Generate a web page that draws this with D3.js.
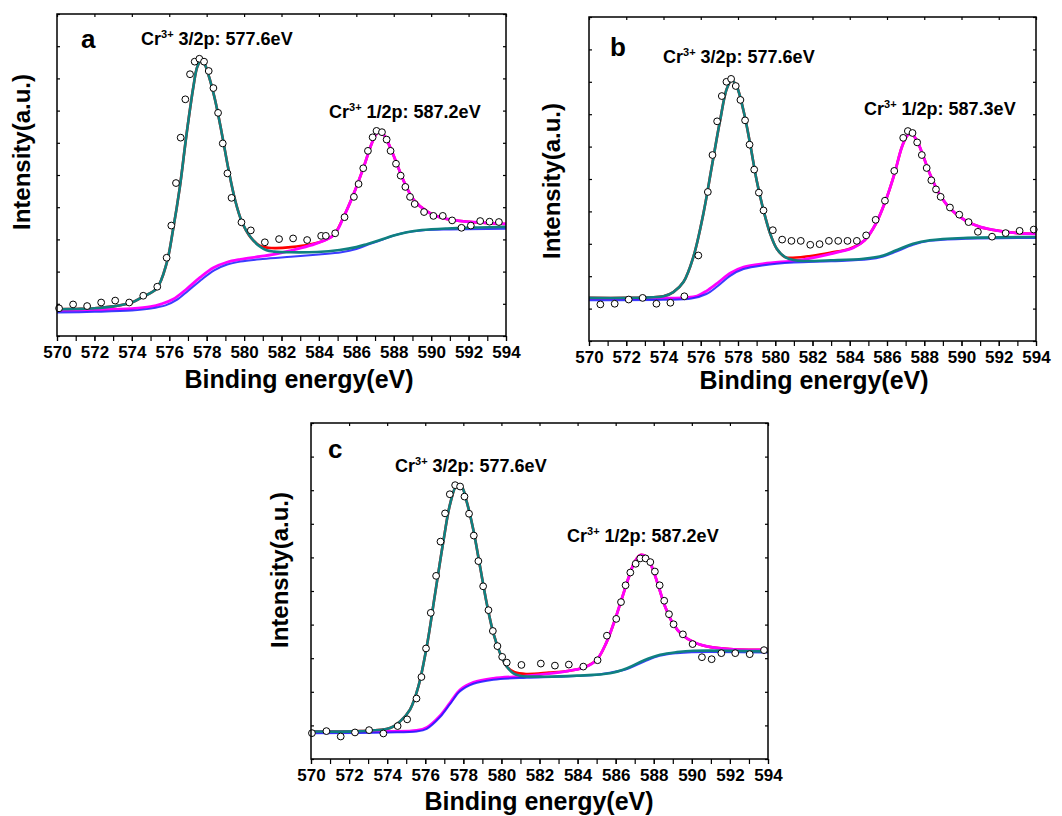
<!DOCTYPE html>
<html>
<head>
<meta charset="utf-8">
<script src="https://cdn.jsdelivr.net/npm/d3@7"></script>
<style>
  body { margin: 0; background: #fff; }
  text { font-family: "Liberation Sans", Arial, sans-serif; font-weight: bold; fill: #000; }
</style>
</head>
<body>
<svg id="fig" width="1062" height="816"></svg>
<script>
// x ticks (eV) and panel texts
var xMajor = [570, 572, 574, 576, 578, 580, 582, 584, 586, 588, 590, 592, 594];
var xMinor = [570, 571, 572, 573, 574, 575, 576, 577, 578, 579, 580, 581, 582, 583, 584, 585, 586, 587, 588, 589, 590, 591, 592, 593, 594];
var panelLetters = ["a", "b", "c"];
var peak1Labels = ["3/2p: 577.6eV", "3/2p: 577.6eV", "3/2p: 577.6eV"];
var peak2Labels = ["1/2p: 587.2eV", "1/2p: 587.3eV", "1/2p: 587.2eV"];

// ---- panel a (intensity in arbitrary units, 0..100 of the frame)
var ptsA = [[570.11,8.6],[570.86,9.8],[571.61,9.3],[572.36,10.4],[573.11,11.0],[573.86,10.4],[574.61,12.5],[575.36,15.3],[575.86,24.3],[576.11,34.3],[576.36,47.5],[576.61,61.6],[576.86,73.5],[577.11,81.3],[577.36,85.2],[577.61,86.1],[577.86,85.2],[578.11,82.3],[578.36,77.0],[578.61,69.3],[578.86,59.8],[579.11,50.5],[579.33,42.9],[579.86,35.3],[580.36,32.8],[581.11,29.1],[581.87,30.1],[582.62,30.3],[583.37,29.8],[584.12,31.1],[584.37,31.1],[584.87,31.9],[585.37,36.9],[585.87,43.2],[586.12,47.2],[586.37,52.1],[586.62,57.5],[586.87,61.7],[587.08,63.7],[587.37,63.3],[587.62,61.0],[587.83,57.5],[588.12,53.5],[588.37,49.8],[588.62,46.3],[588.87,43.2],[589.12,41.0],[589.62,38.5],[590.12,37.3],[590.62,37.3],[591.12,35.9],[591.62,33.6],[592.12,34.3],[592.62,35.7],[593.12,35.5],[593.62,35.4]];
var peak1A = [[570,8.3],[571,8.4],[572,8.6],[573,9.2],[574,10.4],[574.6,12.2],[575.33,14.8],[575.86,22.6],[576.2,32.9],[576.57,46.4],[576.93,62.9],[577.29,77.4],[577.5,83.6],[577.7,85.4],[577.9,84.3],[578.1,81.0],[578.45,73.3],[578.81,62.9],[579.17,51.6],[579.52,42.2],[579.88,35.5],[580.33,30.8]];
var tail1A = [[580.86,27.7],[581.2,26.6],[581.6,26.2],[582.5,26.0],[583.9,26.1],[585.1,26.7],[586,27.6],[586.6,28.6],[587.27,29.8],[588,31.2],[588.7,32.2],[589.5,32.9],[590.85,33.4],[592.5,33.7],[594,33.9]];
var valleyA = [[580.86,28.0],[581.3,27.4],[581.7,27.3],[582.5,27.6],[583.5,28.4],[584.3,29.7]];
var peak2A = [[584.8,31.4],[585.33,37.1],[585.87,44.3],[586.4,52.6],[586.76,58.8],[587.03,62.4],[587.22,63.5],[587.48,62.4],[587.83,58.3],[588.19,53.1],[588.55,47.9],[589.08,42.2],[589.8,38.6],[590.7,36.5],[591.94,35.5],[594,34.8]];
var base2A = [[570,7.9],[572,8.1],[574,8.5],[575,9.1],[575.6,10.0],[576.2,11.4],[576.93,14.6],[577.65,18.2],[578.36,21.2],[579.08,22.9],[579.8,23.8],[580.86,24.7],[581.8,25.6],[582.8,27.0],[583.8,28.6]];
var bgA = [[570,7.3],[572,7.5],[574,7.9],[575,8.5],[575.8,9.5],[576.4,11.2],[577,14.0],[577.7,17.4],[578.4,20.4],[579.1,22.2],[579.8,23.1],[581,23.9],[582.5,24.6],[584,25.3],[585.2,26.0],[586,27.0],[586.6,28.3],[587.3,29.7],[588,31.2],[588.7,32.2],[589.5,32.8],[591,33.1],[594,33.3]];

// ---- panel b
var ptsB = [[570.61,11.3],[571.38,11.5],[572.13,12.8],[572.88,13.3],[573.62,11.5],[574.37,11.8],[575.12,13.8],[575.87,26.4],[576.38,46.0],[576.63,57.4],[576.88,67.8],[577.13,75.6],[577.38,80.0],[577.63,80.9],[577.88,78.7],[578.13,74.4],[578.38,68.1],[578.62,60.6],[578.87,52.9],[579.12,45.8],[579.37,40.3],[579.87,34.2],[580.37,31.3],[580.87,30.9],[581.37,30.9],[581.88,29.7],[582.38,29.9],[582.88,30.9],[583.38,30.9],[583.88,30.9],[584.38,30.9],[584.88,32.6],[585.39,37.4],[585.89,43.3],[586.39,52.5],[586.87,62.7],[587.12,64.8],[587.37,64.2],[587.62,61.3],[587.87,57.4],[588.13,53.4],[588.38,49.6],[588.63,46.8],[588.88,44.5],[589.38,41.2],[589.88,39.0],[590.38,36.7],[590.88,33.7],[591.64,32.2],[592.37,33.3],[593.12,34.0],[593.88,34.4]];
var peak1B = [[570,13.3],[572,13.3],[574,13.8],[574.53,15.1],[575.07,18.2],[575.6,25.9],[576.14,39.3],[576.59,53.7],[577.04,68.1],[577.4,77.9],[577.67,80.5],[577.93,78.6],[578.29,71.2],[578.65,60.9],[579.0,49.6],[579.37,40.3],[579.73,33.1],[580.08,28.5],[580.53,25.9]];
var tail1B = [[580.98,25.0],[581.5,24.7],[583,24.9],[584.74,25.4],[585.8,26.4],[586.5,28.0],[587.4,30.0],[588.3,31.1],[590.1,31.8],[594,32.1]];
var valleyB = [[580.95,25.7],[582,26.3],[583,27.3],[584,28.5]];
var peak2B = [[584.8,31.1],[585.4,36.2],[585.9,42.9],[586.4,51.6],[586.8,59.9],[587.1,63.5],[587.3,64.0],[587.6,61.9],[587.9,57.8],[588.3,51.6],[588.8,45.5],[589.4,40.8],[590.2,37.2],[591,35.2],[592,34.0],[593,33.3],[594,33.1]];
var base2B = [[570,13.1],[574,13.2],[575.2,13.4],[575.8,13.9],[576.3,15.4],[576.9,17.9],[577.6,21.0],[578.3,22.8],[579.4,23.9],[581.2,24.9],[582.2,25.9],[583.2,27.2],[584.2,28.8]];
var bgB = [[570,12.6],[574,12.7],[575.5,13.1],[576.3,14.5],[576.9,16.9],[577.6,20.2],[578.3,22.2],[579.4,23.4],[581,24.2],[583,24.6],[585,25.2],[585.8,26.1],[586.5,27.6],[587.4,29.7],[588.3,30.9],[590,31.5],[594,31.8]];

// ---- panel c
var ptsC = [[570.05,7.7],[570.81,8.3],[571.56,6.7],[572.31,7.9],[573.05,8.6],[573.80,7.6],[574.55,9.8],[575.05,11.8],[575.54,18.0],[575.80,24.4],[576.04,32.9],[576.29,43.5],[576.57,54.5],[576.80,64.7],[577.04,73.1],[577.29,78.8],[577.57,81.5],[577.83,81.1],[578.06,78.1],[578.30,73.0],[578.55,66.5],[578.79,58.9],[579.04,51.4],[579.32,44.3],[579.55,38.1],[579.79,33.6],[580.04,30.4],[580.28,28.7],[581.05,28.0],[582.07,28.4],[582.81,27.8],[583.54,28.1],[584.30,27.5],[585.05,29.4],[585.54,36.7],[586.03,41.7],[586.28,46.7],[586.52,51.7],[586.77,55.5],[587.05,58.1],[587.29,59.7],[587.57,59.7],[587.82,58.6],[588.06,55.8],[588.31,51.7],[588.55,47.1],[588.80,43.1],[589.04,40.1],[589.53,37.1],[590.04,34.2],[590.53,30.3],[591.04,29.7],[591.55,31.5],[592.28,31.5],[593.04,31.2],[593.79,32.4]];
var peak1C = [[570,8.2],[572.6,8.3],[574.15,9.2],[574.68,11.2],[575.2,14.7],[575.64,21.6],[576.08,33.5],[576.52,49.3],[576.96,65.1],[577.31,76.0],[577.66,81.5],[577.92,81.0],[578.18,76.5],[578.53,68.1],[578.88,57.2],[579.23,46.3],[579.58,37.4],[579.93,31.5],[580.28,27.5]];
var tail1C = [[580.63,25.5],[580.98,24.8],[582.2,24.5],[583.96,24.8],[585.7,25.5],[586.6,27.0],[587.47,29.3],[588.34,31.0],[589.22,31.8],[590.1,32.2],[594,32.0]];
var valleyC = [[580.7,25.8],[581.3,25.3],[582.5,25.7],[583.5,26.2],[584.3,27.2]];
var peak2C = [[585,29.5],[585.5,34.5],[585.9,40.4],[586.3,47.3],[586.7,54.3],[587.0,58.7],[587.3,60.7],[587.6,60.2],[587.9,57.2],[588.2,52.3],[588.6,45.3],[589.0,40.4],[589.5,36.9],[590.2,34.5],[591,33.3],[592,32.7],[593,32.5],[594,32.5]];
var base2C = [[570,8.0],[574,8.2],[575.55,8.5],[576.08,9.4],[576.78,12.9],[577.31,16.8],[577.83,20.6],[578.53,22.8],[579.58,24.0],[581.33,24.7],[582.5,25.4],[583.6,26.3],[584.4,27.3]];
var bgC = [[570,7.7],[574,7.9],[575.55,8.2],[576.08,9.0],[576.78,12.5],[577.31,16.4],[577.83,20.2],[578.53,22.4],[579.58,23.6],[581.33,24.2],[583,24.5],[585,25.1],[585.8,25.8],[586.6,26.8],[587.5,29.0],[588.3,30.7],[589.2,31.5],[590,31.8],[594,31.7]];

// layout of each panel on the page
var panels = [
  { x0: 57, x1: 506, y0: 14, y1: 336, letter: [81, 48], ann1: [141, 45], ann2: [329, 118], xlab: [299, 388], ylab: [30, 152],
    pts: ptsA, peak1: peak1A, tail1: tail1A, valley: valleyA, peak2: peak2A, base2: base2A, bg: bgA },
  { x0: 589, x1: 1036, y0: 17, y1: 341, letter: [610, 56], ann1: [663, 63], ann2: [864, 115], xlab: [814, 389], ylab: [560, 181],
    pts: ptsB, peak1: peak1B, tail1: tail1B, valley: valleyB, peak2: peak2B, base2: base2B, bg: bgB },
  { x0: 311, x1: 768, y0: 423, y1: 759, letter: [328, 458], ann1: [395, 472], ann2: [567, 542], xlab: [539, 810], ylab: [288, 570],
    pts: ptsC, peak1: peak1C, tail1: tail1C, valley: valleyC, peak2: peak2C, base2: base2C, bg: bgC }
];

var svg = d3.select("#fig");

panels.forEach(function(p, i) {
  var x = d3.scaleLinear().domain([570, 594]).range([p.x0, p.x1]);
  var y = d3.scaleLinear().domain([0, 100]).range([p.y1, p.y0]);
  var g = svg.append("g");

  var clipId = "clip" + i;
  g.append("clipPath").attr("id", clipId).append("rect")
    .attr("x", p.x0).attr("y", p.y0).attr("width", p.x1 - p.x0).attr("height", p.y1 - p.y0);

  var line = d3.line()
    .x(function(d) { return x(d[0]); })
    .y(function(d) { return y(d[1]); })
    .curve(d3.curveCatmullRom.alpha(0.5));

  var curves = g.append("g").attr("clip-path", "url(#" + clipId + ")");
  // envelope, peak 2 component, background, peak 1 component
  curves.append("path").attr("d", line(p.peak1.concat(p.valley, p.peak2)))
    .attr("fill", "none").attr("stroke", "#ff0000").attr("stroke-width", 2.6);
  curves.append("path").attr("d", line(p.base2.concat(p.peak2)))
    .attr("fill", "none").attr("stroke", "#ff00ff").attr("stroke-width", 2.8);
  curves.append("path").attr("d", line(p.bg))
    .attr("fill", "none").attr("stroke", "#1a1aff").attr("stroke-width", 2)
    .attr("stroke-opacity", 0.85);
  curves.append("path").attr("d", line(p.peak1.concat(p.tail1)))
    .attr("fill", "none").attr("stroke", "#0f8080").attr("stroke-width", 2.6);

  g.selectAll("circle.pt").data(p.pts).enter().append("circle")
    .attr("class", "pt")
    .attr("cx", function(d) { return x(d[0]); })
    .attr("cy", function(d) { return y(d[1]); })
    .attr("r", 3.4)
    .attr("fill", "#fff").attr("stroke", "#000").attr("stroke-width", 1);

  // axes
  var bottom = g.append("g").attr("transform", "translate(0," + p.y1 + ")");
  bottom.call(d3.axisBottom(x).tickValues(xMinor).tickSize(5).tickSizeOuter(0).tickFormat(""));
  var bottomLab = g.append("g").attr("transform", "translate(0," + p.y1 + ")");
  bottomLab.call(d3.axisBottom(x).tickValues(xMajor).tickSize(5).tickPadding(5).tickSizeOuter(0).tickFormat(d3.format("d")));
  bottomLab.selectAll("text").style("font-size", "17px");

  var top = g.append("g").attr("transform", "translate(0," + p.y0 + ")");
  top.call(d3.axisTop(x).tickValues(xMajor).tickSize(-3).tickSizeOuter(0).tickFormat(""));

  var yTicks = d3.range(0, 101, 10);
  g.append("g").attr("transform", "translate(" + p.x0 + ",0)")
    .call(d3.axisLeft(y).tickValues(yTicks).tickSize(-3).tickSizeOuter(0).tickFormat(""));
  g.append("g").attr("transform", "translate(" + p.x1 + ",0)")
    .call(d3.axisRight(y).tickValues(yTicks).tickSize(-3).tickSizeOuter(0).tickFormat(""));

  g.selectAll(".domain").remove();
  g.selectAll(".tick line").attr("stroke", "#000").attr("stroke-width", 1.2);

  g.append("rect")
    .attr("x", p.x0).attr("y", p.y0).attr("width", p.x1 - p.x0).attr("height", p.y1 - p.y0)
    .attr("fill", "none").attr("stroke", "#000").attr("stroke-width", 1.5);

  // texts
  g.append("text").attr("x", p.letter[0]).attr("y", p.letter[1])
    .style("font-size", "26px").text(panelLetters[i]);

  [[p.ann1, peak1Labels[i]], [p.ann2, peak2Labels[i]]].forEach(function(a) {
    var t = g.append("text").attr("x", a[0][0]).attr("y", a[0][1]).style("font-size", "18px");
    t.append("tspan").text("Cr");
    t.append("tspan").attr("dy", -7).style("font-size", "11px").text("3+");
    t.append("tspan").attr("dy", 7).text(" " + a[1]);
  });

  g.append("text").attr("x", p.xlab[0]).attr("y", p.xlab[1])
    .attr("text-anchor", "middle").style("font-size", "25px").text("Binding energy(eV)");

  g.append("text")
    .attr("transform", "translate(" + p.ylab[0] + "," + p.ylab[1] + ") rotate(-90)")
    .attr("text-anchor", "middle").style("font-size", "24px").text("Intensity(a.u.)");
});
</script>
</body>
</html>
